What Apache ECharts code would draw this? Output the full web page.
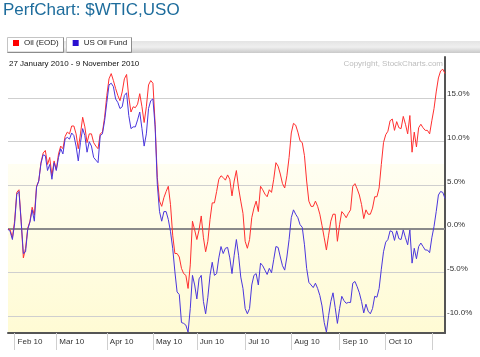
<!DOCTYPE html>
<html><head><meta charset="utf-8">
<script src="https://cdn.jsdelivr.net/npm/echarts@6/dist/echarts.min.js"></script>
<style>html,body{margin:0;padding:0;background:#fff}#c{width:480px;height:357px}</style>
</head><body><div id="c"></div>
<script>
// Percent performance since 27 Jan 2010, one value per trading day
const oil = [0,-0.1,-1.0,0.9,4.2,4.5,0.9,-3.3,-2.2,0.1,
0.9,2.5,1.6,4.9,5.5,7.6,8.7,9.0,7.4,8.2,
6.1,7.8,6.8,8.6,9.5,9.2,10.6,11.1,10.9,11.8,
11.8,10.9,9.2,10.9,12.8,11.7,9.9,10.9,10.9,9.9,
9.5,9.2,10.9,11.1,12.8,15.3,17.2,17.8,17.0,16.1,
15.3,14.7,15.7,17.2,17.7,15.1,13.4,14.0,13.9,14.3,
15.5,14.0,12.2,14.0,16.5,17.0,16.7,12.0,5.9,3.2,
2.6,3.6,4.3,4.9,2.8,-0.7,-2.8,-2.8,-3.2,-4.5,
-5.1,-5.3,-6.8,-4.1,0.9,-0.1,-1.2,-0.1,1.5,-1.0,
-2.6,-1.4,1.1,3.0,3.0,4.3,5.7,6.1,5.9,5.6,
6.2,5.7,3.8,5.5,6.7,4.7,3.2,1.8,-1.4,-2.2,
-1.2,1.3,2.4,3.2,2.0,4.9,4.5,4.0,3.7,4.5,
4.2,5.7,7.6,7.2,6.3,5.2,4.7,6.1,8.2,11.0,
12.1,11.9,11.1,10.1,9.9,8.4,5.5,3.2,2.6,2.6,
3.2,2.6,1.7,0.4,-1.0,-2.4,-0.7,0.9,1.7,1.7,
-1.4,0.5,2.0,1.7,1.3,1.8,2.2,4.9,5.2,4.6,
3.9,2.8,1.2,2.2,1.7,1.7,2.4,3.7,3.7,4.7,
7.4,9.9,10.8,11.2,12.4,12.6,11.3,12.3,11.6,11.5,
12.9,12.0,10.9,13.0,8.8,11.1,9.4,11.6,12.0,11.6,
11.3,11.3,10.9,12.4,13.8,15.7,17.3,18.1,18.3,17.8];
const uso = [0,-0.3,-1.2,0.6,4.0,4.3,0.8,-2.8,-2.6,0.0,
0.8,2.2,0.9,4.8,5.5,7.5,8.5,8.4,6.7,7.4,
5.7,7.6,6.7,8.2,9.2,8.6,10.3,10.5,10.3,11.0,
10.7,9.5,7.8,9.9,11.5,10.7,8.8,10.0,9.5,8.2,
7.9,7.6,10.7,10.9,12.4,14.5,16.5,16.7,16.3,14.9,
14.5,13.8,14.0,15.3,15.6,13.0,11.5,11.7,11.7,12.5,
13.4,11.5,9.5,10.9,13.8,14.7,14.9,11.7,5.1,2.0,
0.9,2.0,2.0,1.1,-0.3,-2.2,-4.9,-7.2,-7.5,-10.7,
-10.8,-11.0,-11.8,-9.1,-5.3,-6.4,-8.0,-5.7,-5.3,-8.3,
-9.7,-7.8,-5.3,-3.8,-5.3,-5.1,-3.3,-2.0,-2.8,-2.2,
-2.1,-3.3,-5.1,-3.0,-1.2,-3.0,-5.5,-6.8,-9.1,-9.7,
-9.1,-6.4,-5.3,-5.1,-6.4,-3.9,-4.2,-4.7,-5.2,-4.5,
-5.0,-3.5,-2.0,-2.1,-3.2,-4.2,-4.7,-3.2,-1.2,1.3,
2.2,1.7,1.3,0.5,0.2,-1.8,-4.5,-6.1,-6.4,-6.7,
-6.2,-6.8,-7.6,-8.8,-10.7,-11.8,-9.9,-8.3,-7.3,-9.0,
-10.8,-9.1,-7.7,-8.2,-8.5,-8.4,-8.4,-6.2,-6.0,-6.6,
-7.3,-8.3,-9.6,-8.6,-9.4,-9.7,-9.1,-7.7,-7.8,-6.8,
-4.6,-2.6,-1.5,-1.2,-0.2,-0.3,-1.3,-0.2,-1.1,-1.2,
-0.1,-1.0,-1.8,-0.1,-3.9,-2.2,-3.4,-2.0,-1.6,-2.0,
-2.4,-2.4,-2.7,-1.0,0.3,2.0,3.9,4.3,4.2,3.5];
const seriesNames = ['Oil (EOD)', 'US Oil Fund'];
const startDate = '2010-01-27';
const endDate = '2010-11-09';
const holidays = ['2010-02-15','2010-04-02','2010-05-31','2010-07-05','2010-09-06'];
const monthLabels = {'2010-02':'Feb 10','2010-03':'Mar 10','2010-04':'Apr 10','2010-05':'May 10','2010-06':'Jun 10','2010-07':'Jul 10','2010-08':'Aug 10','2010-09':'Sep 10','2010-10':'Oct 10'};
const yMin = -11.9, yMax = 19.7, shadeTop = 7.45;

// trading-day categories
const dates = [];
for (let t = Date.parse(startDate + 'T00:00:00Z'); t <= Date.parse(endDate + 'T00:00:00Z'); t += 86400000) {
  const d = new Date(t), wd = d.getUTCDay(), s = d.toISOString().slice(0,10);
  if (wd === 0 || wd === 6 || holidays.includes(s)) continue;
  dates.push(s);
}
const isMonthStart = dates.map((d,i) => i > 0 && d.slice(0,7) !== dates[i-1].slice(0,7));

const FONT = '"Liberation Sans", Arial, sans-serif';
const f = (yMax - shadeTop) / (yMax - yMin);
const chart = echarts.init(document.getElementById('c'), null, {renderer:'canvas'});
chart.setOption({
  animation: false,
  backgroundColor: '#fff',
  title: {text: 'PerfChart: $WTIC,USO', left: 3, top: 2, padding: 0,
    textStyle: {fontSize: 17, fontWeight: 'normal', color: '#1d6c9c', fontFamily: FONT}},
  legend: {data: [{name: seriesNames[0], itemStyle:{color:'#ff0000'}}, {name: seriesNames[1], itemStyle:{color:'#2a10d0'}}],
    left: 13, top: 39, padding: 0, itemWidth: 6, itemHeight: 6, itemGap: 14, icon: 'rect',
    selectedMode: false,
    textStyle: {fontSize: 8, color: '#222', fontFamily: FONT, padding: [0,0,0,0]}},
  graphic: [
    {type:'rect', z:-10, shape:{x:7, y:41, width:473, height:12},
      style:{fill: new echarts.graphic.LinearGradient(0,0,0,1,[{offset:0,color:'#e4e4e4'},{offset:0.5,color:'#efefef'},{offset:1,color:'#c9c9c9'}])}},
    {type:'rect', z:-5, shape:{x:7.5, y:37.5, width:56, height:14.5}, style:{fill:'#fff', stroke:'#c4c4c4', lineWidth:1}},
    {type:'polyline', z:-4, shape:{points:[[63.5,37.5],[63.5,52.5],[7.5,52.5]]}, style:{stroke:'#8c8c8c', fill:null, lineWidth:1}},
    {type:'rect', z:-5, shape:{x:66.5, y:37.5, width:65, height:14.5}, style:{fill:'#fff', stroke:'#c4c4c4', lineWidth:1}},
    {type:'polyline', z:-4, shape:{points:[[131.5,37.5],[131.5,52.5],[66.5,52.5]]}, style:{stroke:'#8c8c8c', fill:null, lineWidth:1}},
    {type:'text', x:9, y:64, style:{text:'27 January 2010 - 9 November 2010', fontSize:8, fill:'#111', fontFamily:FONT, verticalAlign:'middle'}},
    {type:'text', x:443, y:64, style:{text:'Copyright, StockCharts.com', fontSize:8, fill:'#bdbdbd', fontFamily:FONT, align:'right', verticalAlign:'middle'}}
  ],
  grid: {left: 8, right: 35, top: 57, bottom: 24, show: true, borderWidth: 0,
    backgroundColor: new echarts.graphic.LinearGradient(0,0,0,1,[
      {offset:0,color:'#ffffff'},{offset:f,color:'#ffffff'},{offset:f+0.001,color:'#fffef2'},{offset:1,color:'#fffbd4'}])},
  xAxis: {type:'category', data: dates, boundaryGap: false,
    axisLine: {onZero: false, lineStyle: {color:'#555', width: 2}},
    axisTick: {interval: (i) => isMonthStart[i], length: 17, lineStyle: {color:'#cfcfcf'}},
    axisLabel: {interval: (i) => isMonthStart[i], align:'left', margin: 5, padding:[0,0,0,3],
      fontSize: 8, color:'#333', fontFamily: FONT,
      formatter: (v) => monthLabels[v.slice(0,7)] || ''},
    splitLine: {show:false}},
  yAxis: {type:'value', position:'right', min: yMin, max: yMax, splitNumber: 6, minInterval: 5, maxInterval: 5,
    axisLine: {show: true, lineStyle: {color:'#555', width: 2}},
    axisTick: {show: false},
    axisLabel: {margin: 2, fontSize: 8, color:'#333', fontFamily: FONT, verticalAlign:'bottom',
      formatter: (v) => Math.abs(v % 5) > 1e-6 ? '' : v.toFixed(1) + '%'},
    splitLine: {show: true, showMinLine: false, showMaxLine: false, lineStyle: {color:'#cfcfcf', width: 1}}},
  series: [
    {name: seriesNames[0], type:'line', data: oil, symbol:'none', lineStyle:{color:'#ff3030', width:1}, itemStyle:{color:'#ff0000'},
      markLine: {silent: true, symbol:['none','none'], label:{show:false}, z: 1,
        lineStyle:{color:'#8a8a8a', width:2, type:'solid'}, data:[{yAxis:0}]}},
    {name: seriesNames[1], type:'line', data: uso, symbol:'none', lineStyle:{color:'#4a36dc', width:1}, itemStyle:{color:'#2a10d0'}}
  ]
});
</script></body></html>
